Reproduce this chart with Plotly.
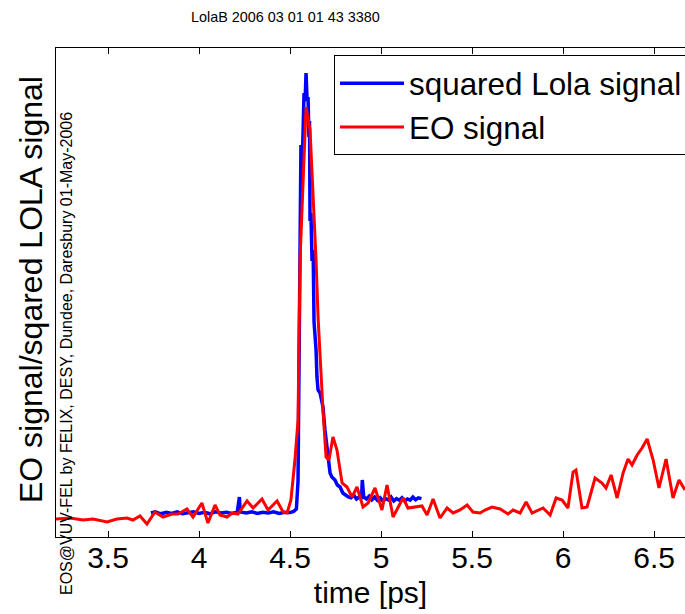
import plotly.graph_objects as go

# ---- data (time in ps, signal in arbitrary normalised units) ----
lola_t = [3.736, 3.76, 3.79, 3.82, 3.85, 3.88, 3.91, 3.94, 3.97, 4.00,
          4.03, 4.06, 4.09, 4.12, 4.15, 4.18, 4.21, 4.222, 4.226, 4.232,
          4.26, 4.29, 4.32, 4.35, 4.38, 4.41, 4.44, 4.47, 4.50, 4.52, 4.535,
          4.544, 4.550, 4.555, 4.560, 4.566, 4.572, 4.577, 4.583, 4.588, 4.594,
          4.599, 4.604, 4.607, 4.610, 4.615, 4.621, 4.627, 4.632, 4.643, 4.648,
          4.654, 4.665, 4.681, 4.692, 4.700, 4.709, 4.720, 4.730, 4.747, 4.760, 4.775,
          4.790, 4.805, 4.820, 4.835, 4.850, 4.865, 4.880, 4.893, 4.897, 4.905,
          4.920, 4.935, 4.950, 4.965, 4.980, 4.995, 5.010, 5.025, 5.040, 5.055,
          5.070, 5.085, 5.100, 5.115, 5.130, 5.145, 5.160, 5.175, 5.190, 5.205, 5.222]
lola_v = [0.000, 0.003, -0.002, 0.002, -0.001, 0.003, -0.002, 0.001, 0.003, -0.001,
          0.002, -0.002, 0.003, 0.000, 0.002, -0.001, 0.002, 0.040, 0.005, 0.002,
          0.000, 0.003, -0.001, 0.002, 0.000, 0.003, -0.001, 0.002, 0.001, 0.004, 0.010,
          0.08, 0.45, 0.70, 0.92, 0.85, 1.02, 1.05, 1.03, 1.10, 1.03,
          1.04, 0.94, 0.98, 0.73, 0.75, 0.63, 0.6575, 0.4775, 0.4075, 0.34,
          0.3075, 0.30, 0.265, 0.2075, 0.18, 0.14, 0.10, 0.09, 0.0825, 0.07, 0.065,
          0.05, 0.045, 0.04, 0.038, 0.045, 0.035, 0.04, 0.035, 0.0825, 0.04,
          0.035, 0.042, 0.033, 0.04, 0.032, 0.038, 0.03, 0.036, 0.033, 0.04,
          0.03, 0.036, 0.032, 0.038, 0.03, 0.035, 0.032, 0.04, 0.033, 0.038, 0.036]

eo_t = [3.214, 3.291, 3.363, 3.418, 3.495, 3.549, 3.604, 3.637, 3.676, 3.714,
        3.758, 3.802, 3.852, 3.885, 3.934, 3.967, 4.016, 4.049, 4.088, 4.115,
        4.154, 4.181, 4.214, 4.264, 4.297, 4.346, 4.379, 4.429, 4.462, 4.484,
        4.505, 4.527, 4.544, 4.555, 4.588, 4.610, 4.643, 4.654, 4.681, 4.698,
        4.714, 4.736, 4.758, 4.786, 4.813, 4.841, 4.868, 4.901, 4.929, 4.967,
        5.005, 5.033, 5.066, 5.093, 5.121, 5.148, 5.187, 5.225, 5.253, 5.286,
        5.324, 5.363, 5.396, 5.434, 5.473, 5.505, 5.544, 5.571, 5.610, 5.654,
        5.698, 5.725, 5.764, 5.797, 5.830, 5.863, 5.890, 5.929, 5.962, 5.995,
        6.027, 6.055, 6.071, 6.104, 6.132, 6.176, 6.214, 6.236, 6.264, 6.297,
        6.330, 6.357, 6.379, 6.407, 6.434, 6.462, 6.495, 6.527, 6.566, 6.604,
        6.637, 6.670]
eo_v = [-0.015, -0.0125, -0.0175, -0.015, -0.0225, -0.015, -0.0125, -0.0175, -0.0075, -0.0275,
        0.0025, -0.01, -0.0025, -0.0025, 0.01, -0.01, 0.025, -0.025, 0.02, -0.005,
        -0.01, 0.0, -0.0025, 0.03, 0.0125, 0.035, 0.0075, 0.03, 0.0025, 0.0,
        0.0325, 0.1325, 0.2325, 0.6325, 1.015, 0.9575, 0.6325, 0.49, 0.2575, 0.14,
        0.1325, 0.19, 0.1575, 0.075, 0.065, 0.04, 0.065, 0.015, 0.025, 0.0625,
        0.0075, 0.07, -0.01, 0.015, 0.0375, 0.0125, 0.015, 0.0175, -0.005, 0.035,
        -0.0125, 0.0125, 0.0, 0.0075, 0.02, 0.0025, 0.0, 0.0075, 0.015, 0.01,
        -0.0025, 0.0075, 0.0, 0.0275, 0.0, 0.0075, 0.0125, -0.005, 0.0375, 0.0325,
        0.0125, 0.1025, 0.1075, 0.0125, 0.015, 0.0875, 0.075, 0.0625, 0.095, 0.0375,
        0.1, 0.135, 0.12, 0.145, 0.1625, 0.185, 0.1325, 0.0625, 0.135, 0.0375,
        0.0825, 0.0575]

tick_vals = [3.5, 4, 4.5, 5, 5.5, 6, 6.5]
tick_text = ["3.5", "4", "4.5", "5", "5.5", "6", "6.5"]

FONT = "Liberation Sans, Arial, sans-serif"

fig = go.Figure()
fig.add_trace(go.Scatter(x=lola_t, y=lola_v, mode="lines", name="squared Lola signal",
                         line=dict(color="#0000ff", width=3.5)))
fig.add_trace(go.Scatter(x=eo_t, y=eo_v, mode="lines", name="EO signal",
                         line=dict(color="#ff0000", width=3)))

fig.update_layout(
    width=685, height=614, autosize=False,
    margin=dict(l=56, r=0, t=48, b=77, pad=0, autoexpand=False),
    paper_bgcolor="white", plot_bgcolor="white",
    font=dict(family=FONT, color="black"),
    showlegend=True,
    legend=dict(x=0.442, y=0.985, xanchor="left", yanchor="top",
                bordercolor="black", borderwidth=1, bgcolor="white",
                font=dict(size=31.4, family=FONT), itemwidth=64,
                tracegroupgap=0),
    xaxis=dict(range=[3.2143, 6.670], tickmode="array", tickvals=tick_vals, ticktext=tick_text,
               showgrid=False, zeroline=False, showline=True, linecolor="black", linewidth=1,
               mirror="ticks", ticks="inside", ticklen=6, tickcolor="black",
               tickfont=dict(size=30, family=FONT), ticklabelstandoff=-6,
               title=dict(text="time [ps]", font=dict(size=30, family=FONT), standoff=8)),
    yaxis=dict(range=[-0.06, 1.1625], showgrid=False, zeroline=False, showline=True,
               linecolor="black", linewidth=1, mirror=False, ticks="", showticklabels=False),
)

fig.add_annotation(text="LolaB 2006 03 01 01 43 3380", xref="paper", yref="paper",
                   x=(285 - 56) / 629, y=(537 - 17.5) / 489, xanchor="center", yanchor="middle",
                   showarrow=False, font=dict(size=14.4, family=FONT))
fig.add_annotation(text="EO signal/sqared LOLA signal", xref="paper", yref="paper",
                   x=(31 - 56) / 629, y=(537 - 290) / 489, xanchor="center", yanchor="middle",
                   textangle=-90, showarrow=False, font=dict(size=32, family=FONT))
fig.add_annotation(text="EOS@VUV-FEL by FELIX, DESY, Dundee, Daresbury 01-May-2006",
                   xref="paper", yref="paper",
                   x=(67 - 56) / 629, y=(537 - 354) / 489, xanchor="center", yanchor="middle",
                   textangle=-90, showarrow=False, font=dict(size=16, family=FONT))

fig.write_html("out.html")
